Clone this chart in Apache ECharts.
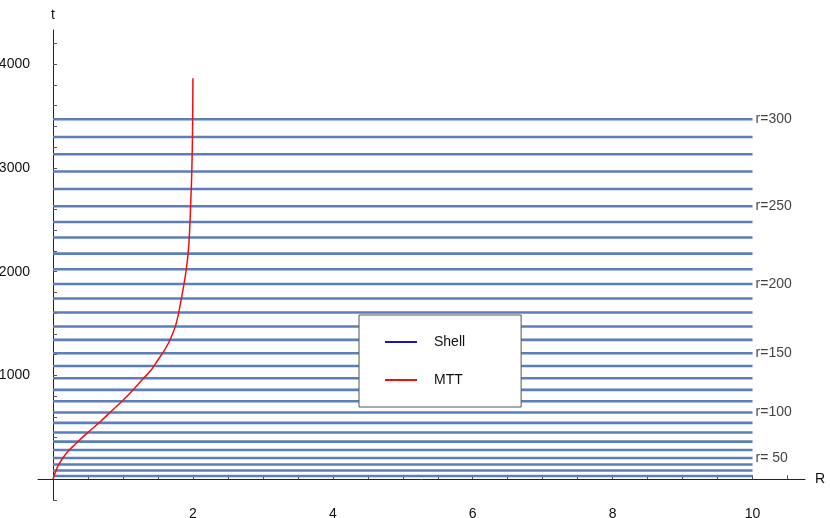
<!DOCTYPE html>
<html><head><meta charset="utf-8">
<script src="https://cdn.jsdelivr.net/npm/echarts@6/dist/echarts.min.js"></script>
<style>html,body{margin:0;padding:0;background:#fff}#c{width:830px;height:518px}</style>
</head><body><div id="c"></div>
<script>
var shellR = [20,30,40,50,60,70,80,90,100,110,120,130,140,150,160,170,180,190,200,210,220,230,240,250,260,270,280,290,300];
var shellT = [32,84,142,205,282,363,450,543,643,752,861,973,1092,1214,1343,1472,1607,1742,1882,2024,2175,2330,2480,2631,2798,2966,3133,3299,3470];
var labelR = [50,100,150,200,250,300];
var labelText = ['r= 50','r=100','r=150','r=200','r=250','r=300'];
var mttR = [0,0.03,0.08,0.19,0.32,0.48,0.67,0.84,1.0,1.15,1.29,1.40,1.48,1.58,1.67,1.76,1.83,1.90,1.94,1.97,1.985,1.995,2.0];
var mttT = [0,60,140,250,340,440,552,660,761,865,970,1050,1130,1230,1340,1500,1725,2000,2250,2690,3000,3400,3865];
var xTicks = [2,4,6,8,10];
var yTicks = [1000,2000,3000,4000];

var shellData = [];
shellT.forEach(function(t){ shellData.push([0,t],[10,t],'-'); });
var lblData = labelR.map(function(r,i){ return {value:[10, shellT[shellR.indexOf(r)]], label:{formatter:labelText[i]}}; });
var mtt = mttR.map(function(r,i){ return [r, mttT[i]]; });
var xMinor=[], yMinor=[];
for (var v=0.5; v<=10.5; v+=0.5) xMinor.push(v);
for (var w=-200; w<=4200; w+=200) if (w!==0) yMinor.push(w);
var font = {fontFamily:'Liberation Sans, Arial', fontSize:14, color:'#111'};
var chart = echarts.init(document.getElementById('c'));
chart.setOption({
  animation:false,
  grid:{left:38,right:25,top:30,bottom:18, containLabel:false, outerBoundsMode:'none'},
  legend:{
    orient:'vertical', left:359, top:315, width:162, height:100,
    padding:[20,56,20,26], itemGap:24, itemWidth:32, itemHeight:2,
    borderColor:'#555', borderWidth:1, backgroundColor:'#fff',
    textStyle:Object.assign({},font,{fontSize:14, padding:[0,0,0,12]}),
    data:[{name:'Shell', icon:'rect', itemStyle:{color:'#1a1aa8'}},
          {name:'MTT', icon:'rect', itemStyle:{color:'#ee1111'}}]
  },
  xAxis:{type:'value', min:-0.215, max:10.75,
    name:'R', nameLocation:'end', nameGap:10, nameTextStyle:Object.assign({},font,{fontSize:14}),
    axisLine:{onZero:true, lineStyle:{color:'#222'}},
    splitLine:{show:false},
    axisTick:{customValues:xMinor, inside:true, length:4, lineStyle:{color:'#555'}},
    axisLabel:Object.assign({customValues:xTicks, margin:7},font)},
  yAxis:{type:'value', min:-200, max:4330,
    name:'t', nameLocation:'end', nameGap:8, nameTextStyle:Object.assign({},font,{fontSize:14}),
    axisLine:{onZero:true, lineStyle:{color:'#222'}},
    splitLine:{show:false},
    axisTick:{customValues:yMinor, inside:true, length:4, lineStyle:{color:'#555'}},
    axisLabel:Object.assign({customValues:yTicks, margin:8, formatter:function(v){return String(v);}},font)},
  series:[
    {name:'Shell', type:'line', data:shellData, showSymbol:false, connectNulls:false,
     lineStyle:{color:'#5b7fbd', width:2.6}, itemStyle:{color:'#1a1aa8'}, z:2},
    {name:'labels', type:'scatter', data:lblData, symbolSize:0,
     label:{show:true, position:'right', distance:3, fontFamily:'Liberation Sans, Arial', fontSize:14, color:'#111'}, z:3},
    {name:'MTT', type:'line', data:mtt, smooth:0.4, showSymbol:false,
     lineStyle:{color:'#ee1111', width:1.5}, itemStyle:{color:'#ee1111'}, z:4}
  ]
});
</script></body></html>
